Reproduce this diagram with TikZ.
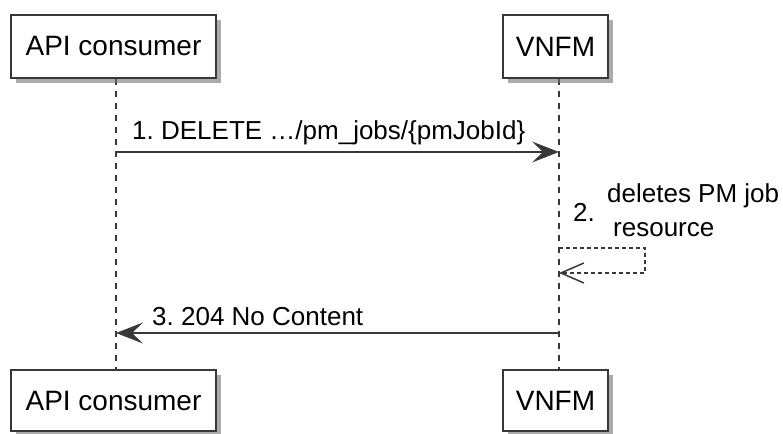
\documentclass[tikz,border=0pt]{standalone}
\usepackage{fontspec}
\setmainfont{Liberation Sans}
\usetikzlibrary{arrows.meta,shadows}
\definecolor{ln}{HTML}{383838}
\frenchspacing
\begin{document}
\begin{tikzpicture}[x=1pt,y=-1pt,
  part/.style={draw=ln, line width=2pt, fill=white, minimum height=63pt, inner sep=0pt,
    font=\fontsize{28}{32}\selectfont,
    drop shadow={shadow xshift=5pt, shadow yshift=-5pt, fill=black!55, opacity=0.6}},
  life/.style={draw=ln, line width=1.5pt, dash pattern=on 6pt off 6pt},
  msg/.style={draw=ln, line width=1.5pt, -{Stealth[length=27pt,width=21pt,inset=11pt]}},
  selfmsg/.style={draw=ln, line width=1.2pt, dash pattern=on 4pt off 3pt,
    -{Straight Barb[length=23pt,width=20pt,line width=1.5pt]}},
  lbl/.style={font=\fontsize{26}{30}\selectfont\frenchspacing, inner sep=0pt, text=black}
]
\useasboundingbox (0,0) rectangle (783,433);
% lifelines (drawn first, boxes on top)
\coordinate (aL1) at (116,79);
\coordinate (aL2) at (116,369);
\coordinate (vL1) at (559,79);
\coordinate (vL2) at (559,369);
\draw[life] (aL1) -- (aL2);
\draw[life] (vL1) -- (vL2);
% participants
\node[part, minimum width=205pt] (apiT) at (113.5,46.5) {API consumer};
\node[part, minimum width=105pt] (vnfmT) at (555.5,46.5) {VNFM};
\node[part, minimum width=205pt, minimum height=61pt] (apiB) at (113.5,400.5) {API consumer};
\node[part, minimum width=105pt, minimum height=61pt] (vnfmB) at (555.5,400.5) {VNFM};
% message 1
\coordinate (a1) at (116,152);
\coordinate (v1) at (559,152);
\draw[msg] (a1) -- (v1);
\node[lbl, anchor=base west] (m1) at (132,139) {1. DELETE \dots/pm\_jobs/\{pmJobId\}};
% message 2 (self)
\coordinate (v2a) at (559,248);
\coordinate (s2a) at (645,248);
\coordinate (s2b) at (645,273);
\coordinate (v2b) at (559,273);
\draw[selfmsg] (v2a) -- (s2a) -- (s2b) -- (v2b);
\node[lbl, anchor=base west] (m2n) at (573,221) {2.};
\node[lbl, anchor=base west] (m2a) at (607,202) {deletes PM job};
\node[lbl, anchor=base west] (m2b) at (613,236) {resource};
% message 3
\coordinate (v3) at (559,333);
\coordinate (a3) at (116,333);
\draw[msg] (v3) -- (a3);
\node[lbl, anchor=base west] (m3) at (152,325) {3. 204 No Content};
\end{tikzpicture}
\end{document}
